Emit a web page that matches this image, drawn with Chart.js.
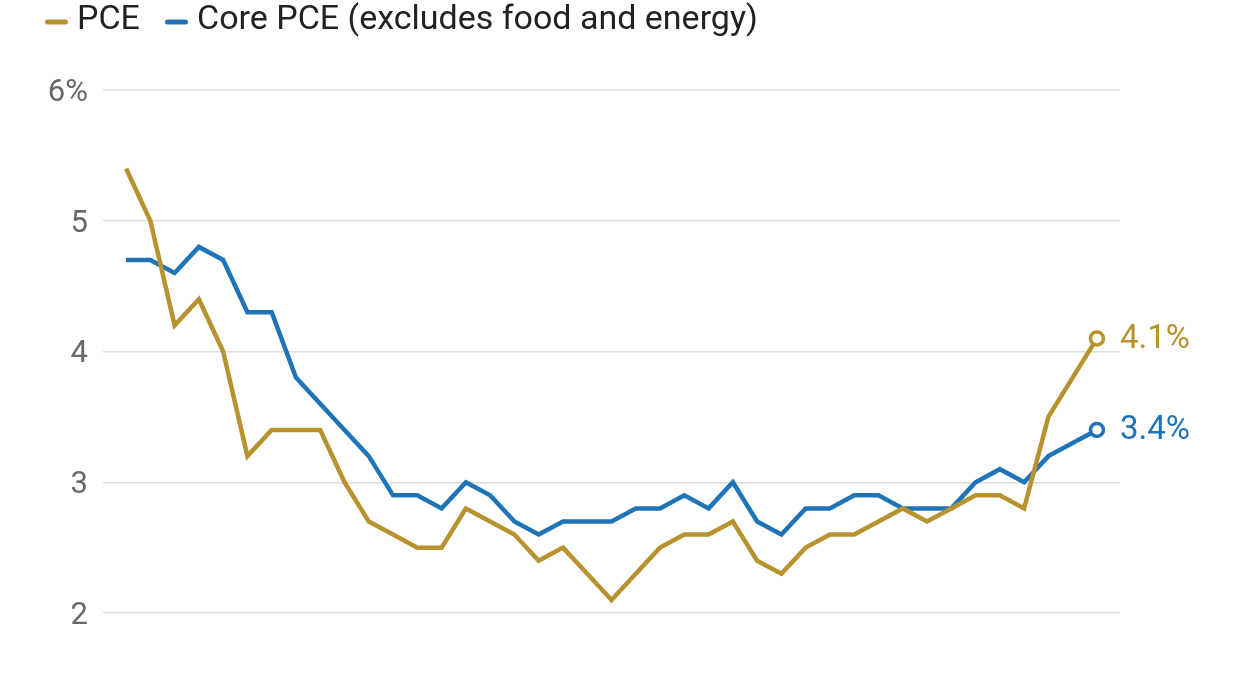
<!DOCTYPE html>
<html>
<head>
<meta charset="utf-8">
<script src="https://cdn.jsdelivr.net/npm/chart.js@4.4.1/dist/chart.umd.min.js"></script>
<style>
  html, body { margin: 0; padding: 0; background: #ffffff; }
  #wrap { width: 1245px; height: 700px; position: relative; }
</style>
</head>
<body>
<div id="wrap"><canvas id="c" width="1245" height="700"></canvas></div>
<script>
// ---- data (monthly readings, % change from a year earlier) ----
const periods = Array.from({ length: 41 }, (_, i) => i); // 41 consecutive months
const pceValues = [5.4,5.0,4.2,4.4,4.0,3.2,3.4,3.4,3.4,3.0,2.7,2.6,2.5,2.5,2.8,2.7,2.6,2.4,2.5,2.3,2.1,2.3,2.5,2.6,2.6,2.7,2.4,2.3,2.5,2.6,2.6,2.7,2.8,2.7,2.8,2.9,2.9,2.8,3.5,3.8,4.1];
const coreValues = [4.7,4.7,4.6,4.8,4.7,4.3,4.3,3.8,3.6,3.4,3.2,2.9,2.9,2.8,3.0,2.9,2.7,2.6,2.7,2.7,2.7,2.8,2.8,2.9,2.8,3.0,2.7,2.6,2.8,2.8,2.9,2.9,2.8,2.8,2.8,3.0,3.1,3.0,3.2,3.3,3.4];
const yTicks = [2, 3, 4, 5, 6];
const seriesNames = ['PCE', 'Core PCE (excludes food and energy)'];

const GOLD = '#B8922E';
const BLUE = '#1F74B8';
const FONT = 'Roboto, "Noto Sans", Arial, sans-serif';

function lastOnly(r) {
  return ctx => ctx.dataIndex === ctx.dataset.data.length - 1 ? r : 0;
}

const endLabels = {
  id: 'endLabels',
  afterDatasetsDraw(chart) {
    const ctx = chart.ctx;
    ctx.save();
    ctx.font = '33px ' + FONT;
    ctx.textAlign = 'left';
    ctx.textBaseline = 'middle';
    chart.data.datasets.forEach((ds, i) => {
      const meta = chart.getDatasetMeta(i);
      const pt = meta.data[meta.data.length - 1];
      const v = ds.data[ds.data.length - 1].y;
      ctx.fillStyle = ds.borderColor;
      ctx.fillText(v.toFixed(1) + '%', pt.x + 23, pt.y + 1);
    });
    ctx.restore();
  }
};

const topLegend = {
  id: 'topLegend',
  afterDraw(chart) {
    const ctx = chart.ctx;
    ctx.save();
    ctx.font = '34px ' + FONT;
    ctx.textBaseline = 'middle';
    ctx.textAlign = 'left';
    const starts = [45, 165];
    const y = 20;
    chart.data.datasets.forEach((ds, i) => {
      let x = starts[i];
      ctx.fillStyle = ds.borderColor;
      ctx.beginPath();
      if (ctx.roundRect) ctx.roundRect(x, y - 0.5, 23, 5, 2.5); else ctx.rect(x, y - 0.5, 23, 5);
      ctx.fill();
      x += 32;
      ctx.fillStyle = '#222222';
      ctx.fillText(ds.label, x, y);
    });
    ctx.restore();
  }
};

new Chart(document.getElementById('c'), {
  type: 'line',
  data: {
    datasets: [
      {
        label: seriesNames[0],
        data: periods.map((p, i) => ({ x: p, y: pceValues[i] })),
        borderColor: GOLD,
        borderWidth: 4.5,
        pointRadius: lastOnly(6.5),
        pointHoverRadius: lastOnly(6.5),
        pointBackgroundColor: '#ffffff',
        pointBorderColor: GOLD,
        pointBorderWidth: 3.5,
        tension: 0,
        clip: false
      },
      {
        label: seriesNames[1],
        data: periods.map((p, i) => ({ x: p, y: coreValues[i] })),
        borderColor: BLUE,
        borderWidth: 4.5,
        pointRadius: lastOnly(6.5),
        pointHoverRadius: lastOnly(6.5),
        pointBackgroundColor: '#ffffff',
        pointBorderColor: BLUE,
        pointBorderWidth: 3.5,
        tension: 0,
        clip: false
      }
    ]
  },
  options: {
    responsive: false,
    animation: false,
    layout: { padding: { left: 45, right: 125, top: 90, bottom: 87 } },
    plugins: {
      legend: { display: false },
      tooltip: { enabled: false }
    },
    scales: {
      x: {
        type: 'linear',
        display: false,
        min: periods[0] - 0.95,
        max: periods[periods.length - 1] + 0.95
      },
      y: {
        min: yTicks[0],
        max: yTicks[yTicks.length - 1],
        afterFit(scale) { scale.width = 58; },
        afterBuildTicks(scale) { scale.ticks = yTicks.map(v => ({ value: v })); },
        border: { display: false },
        grid: { color: '#dcdcdc', lineWidth: 1.5, drawTicks: false },
        ticks: {
          padding: 15,
          labelOffset: 3,
          color: '#686868',
          font: { family: FONT, size: 31 },
          callback: v => v === yTicks[yTicks.length - 1] ? v + '%' : String(v)
        }
      }
    }
  },
  plugins: [endLabels, topLegend]
});
</script>
</body>
</html>
